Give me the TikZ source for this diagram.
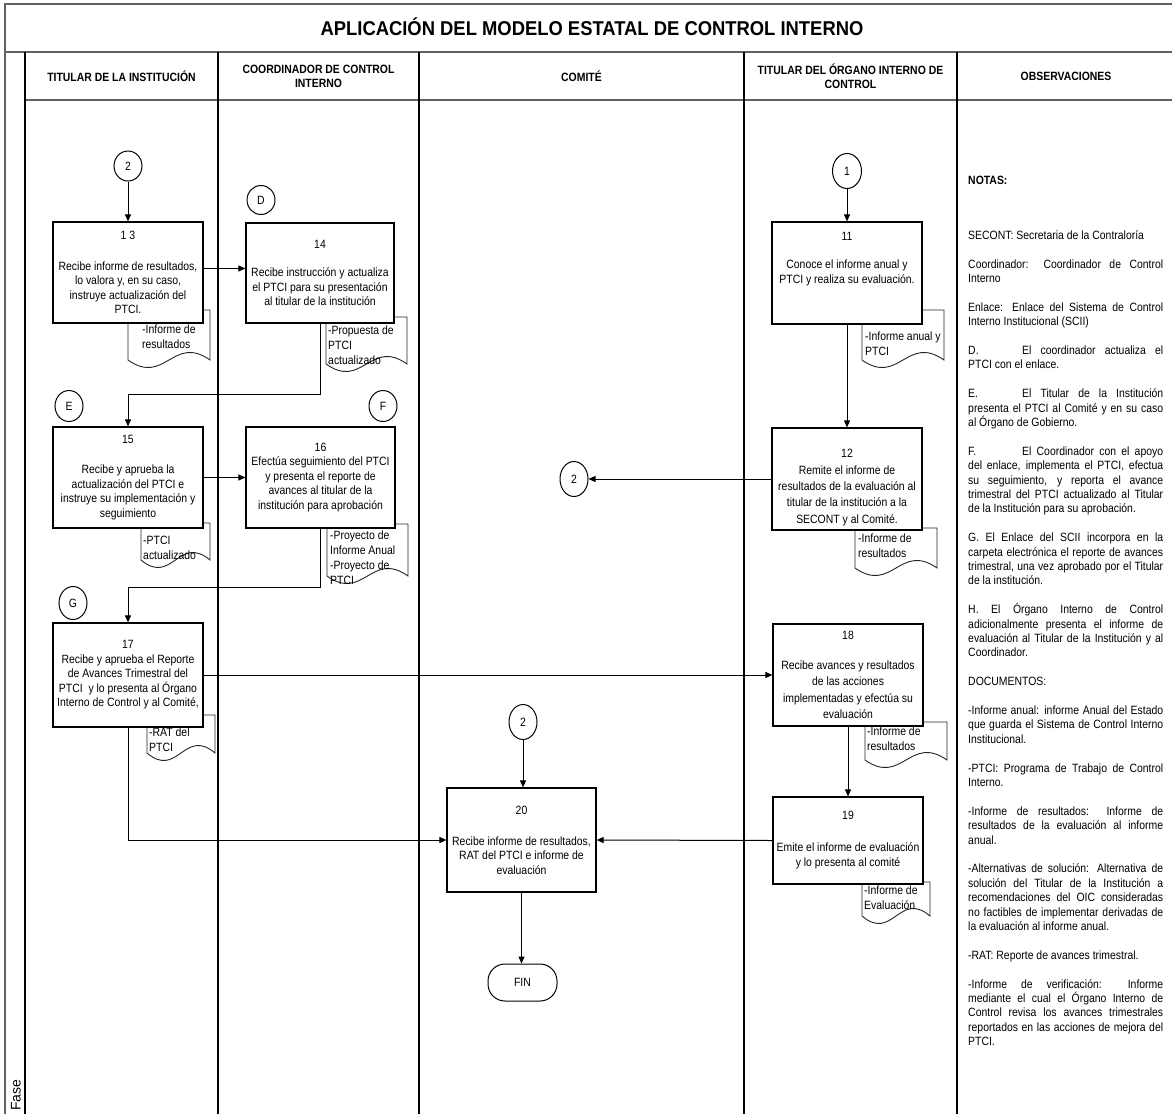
\documentclass[tikz,border=0pt]{standalone}
\usepackage{fontspec}
\setmainfont{Liberation Sans}[FakeStretch=0.87]
\newfontfamily\titlefont{Liberation Sans}[FakeStretch=0.92]
\newfontfamily\widefont{Liberation Sans}
\usetikzlibrary{arrows.meta,shapes.geometric}

% one justified line of the notes column
\newcommand\jline[1]{\makebox[195pt][s]{#1}}
% justified line that opens with a tabbed letter
\newcommand\tabline[2]{\makebox[54pt][l]{#1}\makebox[141pt][s]{#2}}
% document symbol: rectangle with a wavy lower edge
\newcommand\docshape[4]{%
  \path[docline] (#1,#2) -- (#3,#2) -- (#3,#4)
    .. controls ({#1+0.55*(#3-#1)},{#4-26}) and ({#1+0.45*(#3-#1)},{#4+26}) .. (#1,#4) -- cycle;}

\tikzset{
  frame/.style={draw=black!62, line width=1.7pt},
  lane/.style={draw=black, line width=1.1pt},
  stepbox/.style={draw=black, line width=1.2pt, fill=white, rectangle, align=center,
    inner sep=1pt, font=\fontsize{12}{14.5}\selectfont},
  connector/.style={draw=black, line width=1pt, ellipse, fill=white, inner sep=0pt,
    font=\fontsize{12}{14}\selectfont},
  finbox/.style={draw=black, line width=1pt, rectangle, rounded corners=17pt, fill=white,
    minimum width=69pt, minimum height=37pt, font=\fontsize{12}{14}\selectfont},
  flow/.style={draw=black, line width=1pt, -{Triangle[length=7pt,width=6pt]}},
  docline/.style={draw=black!85, line width=0.9pt, fill=white},
  doctext/.style={anchor=north west, inner sep=0pt, align=left, font=\fontsize{12}{15}\selectfont},
  head/.style={font=\bfseries\fontsize{12}{14}\selectfont, align=center, inner sep=0pt},
}

\begin{document}
\begin{tikzpicture}[x=1pt,y=-1pt]
\useasboundingbox (0,0) rectangle (1172,1114);
\fill[white] (0,0) rectangle (1172,1114);

% ---- frame and swimlanes ----
\draw[frame] (5,1114) -- (5,4) -- (1172,4);
\draw[frame] (5,52) -- (1172,52);
\draw[frame] (25,100) -- (1172,100);
\foreach \x in {25,218,419,744,957} \draw[lane] (\x,52) -- (\x,1114);

\node[font=\titlefont\bfseries\fontsize{20}{24}\selectfont] (title) at (592,27)
  {APLICACIÓN DEL MODELO ESTATAL DE CONTROL INTERNO};
\node[head] (h1) at (121.5,76) {TITULAR DE LA INSTITUCIÓN};
\node[head] (h2) at (318.5,76) {COORDINADOR DE CONTROL\\INTERNO};
\node[head] (h3) at (581.5,76) {COMITÉ};
\node[head] (h4) at (850.5,76) {TITULAR DEL ÓRGANO INTERNO DE\\CONTROL};
\node[head] (h5) at (1066,76) {OBSERVACIONES};
\node[rotate=90, anchor=west, inner sep=0pt, font=\widefont\fontsize{14}{14}\selectfont] (fase) at (16,1111) {Fase};

% ---- documents (drawn first, the step boxes cover their tops) ----
\docshape{128}{310}{210}{360}
\docshape{326}{317}{407}{364}
\docshape{141}{523}{210}{560}
\docshape{327}{524}{408}{576}
\docshape{147}{715}{215}{753}
\docshape{862}{310}{944}{360}
\docshape{855}{528}{937}{568}
\docshape{865}{722}{947}{760}
\docshape{862}{882}{930}{916}

\node[doctext] (d13) at (142,325) {-Informe de\\resultados};
\node[doctext] (d14) at (328,326) {-Propuesta de\\PTCI\\actualizado};
\node[doctext] (d15) at (143,536) {-PTCI\\actualizado};
\node[doctext] (d16) at (330,531) {-Proyecto de\\Informe Anual\\-Proyecto de\\PTCI};
\node[doctext] (d17) at (149,728) {-RAT del\\PTCI};
\node[doctext] (d11) at (865,332) {-Informe anual y\\PTCI};
\node[doctext] (d12) at (858,534) {-Informe de\\resultados};
\node[doctext] (d18) at (867,727) {-Informe de\\resultados};
\node[doctext] (d19) at (864,886) {-Informe de\\Evaluación};

% ---- steps ----
\node[stepbox, minimum width=150pt, minimum height=101pt] (b13) at (128,272.5)
  {1 3\\[16.5pt]Recibe informe de resultados,\\lo valora y, en su caso,\\instruye actualización del\\PTCI.};
\node[stepbox, minimum width=148pt, minimum height=100pt] (b14) at (320,273)
  {14\\[13.5pt]Recibe instrucción y actualiza\\el PTCI para su presentación\\al titular de la institución};
\node[stepbox, minimum width=150pt, minimum height=101pt] (b15) at (128,477.5)
  {15\\[15.5pt]Recibe y aprueba la\\actualización del PTCI e\\instruye su implementación y\\seguimiento};
\node[stepbox, minimum width=149pt, minimum height=101pt] (b16) at (320.5,477.5)
  {16\\Efectúa seguimiento del PTCI\\y presenta el reporte de\\avances al titular de la\\institución para aprobación};
\node[stepbox, minimum width=150pt, minimum height=104pt] (b17) at (128,675)
  {17\\Recibe y aprueba el Reporte\\de Avances Trimestral del\\PTCI\ \ y lo presenta al Órgano\\Interno de Control y al Comité,};
\node[stepbox, minimum width=150pt, minimum height=102pt] (b11) at (847,273)
  {11\\[13.5pt]Conoce el informe anual y\\PTCI y realiza su evaluación.\\[15.5pt]\mbox{}};
\node[stepbox, minimum width=150pt, minimum height=102pt, font=\fontsize{12}{16.4}\selectfont] (b12) at (847,479)
  {\mbox{}\\[9pt]12\\Remite el informe de\\resultados de la evaluación al\\titular de la institución a la\\SECONT y al Comité.};
\node[stepbox, minimum width=150pt, minimum height=102pt, font=\fontsize{12}{16.4}\selectfont] (b18) at (848,675)
  {18\\[13.6pt]Recibe avances y resultados\\de las acciones\\implementadas y efectúa su\\evaluación};
\node[stepbox, minimum width=150pt, minimum height=87pt, font=\fontsize{12}{15}\selectfont] (b19) at (848,840.5)
  {19\\[17pt]Emite el informe de evaluación\\y lo presenta al comité};
\node[stepbox, minimum width=149pt, minimum height=104pt] (b20) at (521.5,840)
  {20\\[16.5pt]Recibe informe de resultados,\\RAT del PTCI e informe de\\evaluación};
\node[finbox] (fin) at (522.5,982.5) {FIN};

% ---- connectors ----
\node[connector, minimum width=28pt, minimum height=30pt] (c2a) at (128,166) {2};
\node[connector, minimum width=28pt, minimum height=29pt] (cD) at (261,200) {D};
\node[connector, minimum width=28pt, minimum height=31pt] (cE) at (69,406) {E};
\node[connector, minimum width=28pt, minimum height=31pt] (cF) at (383,406) {F};
\node[connector, minimum width=28pt, minimum height=33pt] (cG) at (73,603) {G};
\node[connector, minimum width=29pt, minimum height=35pt] (c1) at (847,171) {1};
\node[connector, minimum width=28pt, minimum height=35pt] (c2b) at (574,479) {2};
\node[connector, minimum width=28pt, minimum height=35pt] (c2c) at (523,722) {2};

% ---- flow ----
\coordinate (k1) at (128,394);
\coordinate (k2) at (128,587);
\draw[flow] (c2a) -- (b13.north);
\draw[flow] ([yshift=4pt]b13.east) -- ([yshift=4pt]b13.east -| b14.west);
\draw[flow] (b14.south) |- (k1) -- (b15.north);
\draw[flow] (b15.east) -- (b16.west);
\draw[flow] (b16.south) |- (k2) -- (b17.north);
\draw[flow] (b17.east) -- (b18.west);
\draw[flow] (b17.south) |- (b20.west);
\draw[flow] (c1) -- (b11.north);
\draw[flow] (b11.south) -- (b12.north);
\draw[flow] (b12.west) -- (c2b.east);
\draw[flow] (b18.south) -- (b19.north);
\draw[flow] (b19.west) -- (b20.east);
\draw[flow] (c2c.south) -- (c2c.south |- b20.north);
\draw[flow] (b20.south) -- (b20.south |- fin.north);

% ---- notes column ----
\node[anchor=west, inner sep=0pt, font=\bfseries\fontsize{12}{14.4}\selectfont] (notas) at (968,180) {NOTAS:};
\node[anchor=north west, inner sep=0pt, align=left, font=\fontsize{12}{14.4}\selectfont] (notes) at (968,227) {%
\rule{0pt}{12pt}SECONT: Secretaria de la Contraloría\\[14.4pt]
\jline{Coordinador: Coordinador de Control}\\
Interno\\[14.4pt]
\jline{Enlace: Enlace del Sistema de Control}\\
Interno Institucional (SCII)\\[14.4pt]
\tabline{D.}{El coordinador actualiza el}\\
PTCI con el enlace.\\[14.4pt]
\tabline{E.}{El Titular de la Institución}\\
\jline{presenta el PTCI al Comité y en su caso}\\
al Órgano de Gobierno.\\[14.4pt]
\tabline{F.}{El Coordinador con el apoyo}\\
\jline{del enlace, implementa el PTCI, efectua}\\
\jline{su seguimiento, y reporta el avance}\\
\jline{trimestral del PTCI actualizado al Titular}\\
de la Institución para su aprobación.\\[14.4pt]
\jline{G. El Enlace del SCII incorpora en la}\\
\jline{carpeta electrónica el reporte de avances}\\
\jline{trimestral, una vez aprobado por el Titular}\\
de la institución.\\[14.4pt]
\jline{H. El Órgano Interno de Control}\\
\jline{adicionalmente presenta el informe de}\\
\jline{evaluación al Titular de la Institución y al}\\
Coordinador.\\[14.4pt]
DOCUMENTOS:\\[14.4pt]
\jline{-Informe anual: informe Anual del Estado}\\
\jline{que guarda el Sistema de Control Interno}\\
Institucional.\\[14.4pt]
\jline{-PTCI: Programa de Trabajo de Control}\\
Interno.\\[14.4pt]
\jline{-Informe de resultados: Informe de}\\
\jline{resultados de la evaluación al informe}\\
anual.\\[14.4pt]
\jline{-Alternativas de solución: Alternativa de}\\
\jline{solución del Titular de la Institución a}\\
\jline{recomendaciones del OIC consideradas}\\
\jline{no factibles de implementar derivadas de}\\
la evaluación al informe anual.\\[14.4pt]
-RAT: Reporte de avances trimestral.\\[14.4pt]
\jline{-Informe de verificación: Informe}\\
\jline{mediante el cual el Órgano Interno de}\\
\jline{Control revisa los avances trimestrales}\\
\jline{reportados en las acciones de mejora del}\\
PTCI.};
\end{tikzpicture}
\end{document}
